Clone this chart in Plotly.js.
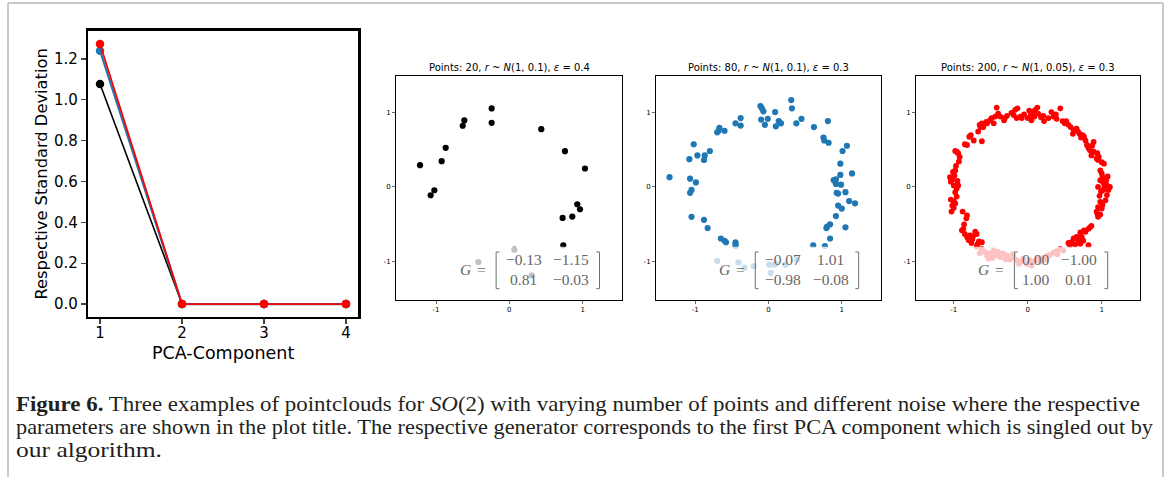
<!DOCTYPE html>
<html><head><meta charset="utf-8">
<script src="https://cdn.plot.ly/plotly-3.0.1.min.js"></script>
<style>html,body{margin:0;padding:0;background:#fff}#chart{width:1167px;height:477px}</style>
</head><body><div id="chart"></div>
<script>
// ---------- data ----------
const pcaComponents = [1, 2, 3, 4];
const stdBlack = [1.077, 0.0, 0.0, 0.0];
const stdBlue  = [1.240, 0.0, 0.0, 0.0];
const stdRed   = [1.273, 0.0, 0.0, 0.0];

const titles = [
  "Points: 20, <i>r</i> ~ <i>N</i>(1, 0.1), <i>ε</i> = 0.4",
  "Points: 80, <i>r</i> ~ <i>N</i>(1, 0.1), <i>ε</i> = 0.3",
  "Points: 200, <i>r</i> ~ <i>N</i>(1, 0.05), <i>ε</i> = 0.3"
];
const matrices = [
  [["−0.13", "−1.15"], ["0.81", "−0.03"]],
  [["−0.07", "1.01"], ["−0.98", "−0.08"]],
  [["0.00", "−1.00"], ["1.00", "0.01"]]
];

const cloud20x = [-1.218,-1.073,-1.023,-0.923,-0.868,-0.636,-0.614,-0.241,-0.241,0.436,0.759,1.032,0.927,0.964,0.859,0.727,0.736,-0.423,0.068,0.305];
const cloud20y = [0.29,-0.112,-0.045,0.344,0.522,0.817,0.888,1.049,0.857,0.772,0.478,0.246,-0.232,-0.299,-0.397,-0.415,-0.781,-1.004,-0.839,-1.183];

const cloud80x = [0.31,0.32,-0.11,-0.09,-0.07,0.09,-0.10,-0.01,-0.05,0.10,0.14,0.17,0.38,0.45,0.62,0.81,-0.38,-0.45,-0.38,-0.67,
  -0.70,-0.68,-0.60,-0.80,-0.87,-0.88,-0.97,-1.02,-1.08,-1.35,-1.07,-0.99,-1.05,-1.07,-1.05,-0.88,-0.83,-0.65,-0.60,-0.58,
  -0.45,-0.45,-0.45,0.61,0.77,0.84,0.84,0.80,0.79,0.92,1.05,0.95,1.00,1.10,1.18,0.93,1.05,0.92,0.89,0.92,
  0.99,0.98,1.14,0.98,1.01,1.07,0.75,0.76,0.82,-0.70,-0.41,-0.33,-0.20,0.01,0.03,0.07,0.10,0.23,0.39,0.95];
const cloud80y = [1.16,1.05,1.08,1.05,1.01,1.00,0.90,0.91,0.83,0.81,0.88,0.85,0.85,0.91,0.80,0.88,0.92,0.85,0.82,0.79,
  0.73,0.75,0.75,0.48,0.42,0.36,0.42,0.57,0.37,0.13,0.11,0.06,-0.04,-0.08,-0.40,-0.44,-0.55,-0.69,-0.72,-0.74,
  -0.74,-0.77,-0.79,-0.78,-0.79,-0.69,-0.50,-0.53,-0.55,-0.39,-0.54,-0.25,-0.29,-0.19,-0.22,-0.08,-0.07,0.04,0.09,0.10,
  0.03,0.16,0.18,0.31,0.48,0.55,0.66,0.62,0.59,-0.99,-1.01,-1.08,-1.06,-1.04,-1.15,-1.04,-1.03,-1.04,-0.97,-0.09];

const cloud200x = [-0.42,-0.44,-0.49,-0.51,-0.55,-0.46,-0.37,-0.32,-0.31,-0.17,-0.14,-0.19,-0.15,-0.10,0.00,0.04,0.07,0.10,0.13,0.09,
  0.14,0.21,0.22,0.35,0.38,0.44,0.39,0.47,-0.08,0.05,
  0.50,0.55,0.58,0.62,0.66,0.70,0.74,0.76,0.61,0.80,0.82,0.84,0.89,0.89,0.94,0.95,1.00,1.03,0.98,1.00,0.93,0.86,
  0.98,1.00,1.03,1.07,1.11,0.95,1.02,1.09,1.07,1.05,0.98,0.95,1.00,0.93,0.98,0.95,1.06,1.01,
  0.84,0.82,0.76,0.71,0.73,0.66,0.62,0.59,0.55,0.64,0.71,0.82,0.75,0.68,
  -0.69,-0.62,-0.58,-0.55,-0.51,-0.46,-0.44,-0.40,-0.37,-0.33,-0.28,-0.24,-0.19,-0.15,-0.10,-0.06,-0.01,0.03,0.08,0.12,
  0.17,0.21,0.26,0.30,0.35,0.39,0.44,0.48,-0.53,-0.65,
  -0.89,-0.87,-0.85,-0.82,-0.78,-0.75,-0.71,-0.69,-0.80,-0.76,-0.66,-0.62,-0.88,-0.82,-0.83,
  -1.03,-1.00,-0.98,-1.04,-1.00,-0.96,-0.98,-0.96,-0.94,-1.04,-1.02,-0.99,-1.01,-0.98,-1.05,-0.95,-0.93,-0.96,-0.94,-0.98,
  -0.85,-0.82,-0.79,-0.77,-0.73,-0.67,-0.64,-0.62,-0.65,-0.60,-0.62,-0.56,
  -0.40,-0.28,-0.05,0.02,0.18,0.28,-0.22,0.32,
  0.52,0.68,0.78,0.87,0.96,0.72,
  1.04,0.97,1.01,0.94,1.08,0.99,
  0.78,0.69,0.57,0.86,
  -0.48,-0.30,-0.12,0.05,0.14,0.25,0.40,-0.20,
  -0.86,-0.74,-0.68,
  -1.00,-0.97,-1.02,-0.92];
const cloud200y = [1.06,0.94,0.92,0.89,0.85,0.85,0.94,0.89,0.92,1.03,1.05,0.96,0.92,0.94,0.92,0.96,1.00,1.03,1.06,0.94,
  0.98,0.95,0.88,0.94,0.97,1.05,0.91,0.88,0.92,0.89,
  0.85,0.83,0.80,0.76,0.78,0.71,0.69,0.67,0.71,0.56,0.52,0.49,0.60,0.47,0.45,0.36,0.33,0.31,0.22,0.18,0.38,0.42,
  0.09,0.08,0.04,0.02,0.00,0.00,-0.04,-0.04,-0.11,-0.18,-0.20,-0.27,-0.29,-0.33,-0.37,-0.40,0.09,0.13,
  -0.54,-0.56,-0.58,-0.61,-0.67,-0.67,-0.69,-0.74,-0.75,-0.77,-0.76,-0.78,-0.72,-0.71,
  -0.80,-0.83,-0.87,-0.92,-0.89,-0.85,-0.92,-0.87,-0.94,-0.89,-0.92,-0.97,-0.94,-0.98,-1.00,-0.96,-1.03,-0.98,-1.00,-0.97,
  -1.00,-0.95,-0.92,-0.91,-0.88,-0.86,-0.83,-0.85,-0.96,-0.89,
  -0.58,-0.56,-0.63,-0.67,-0.65,-0.70,-0.60,-0.63,-0.71,-0.75,-0.73,-0.74,-0.33,-0.38,-0.42,
  -0.33,-0.28,-0.22,-0.17,-0.19,-0.13,-0.07,-0.02,0.02,0.07,0.10,0.15,0.20,0.22,0.13,0.08,0.34,0.47,0.45,0.48,
  0.57,0.56,0.67,0.69,0.62,0.74,0.80,0.85,0.83,0.80,0.61,0.87,
  0.98,0.95,0.97,1.02,0.93,0.92,0.99,1.00,
  0.88,0.74,0.62,0.55,0.40,0.66,
  0.00,-0.12,-0.24,-0.36,0.14,-0.06,
  -0.60,-0.68,-0.78,-0.52,
  -0.95,-0.97,-1.03,-1.05,-0.95,-0.97,-0.90,-0.90,
  -0.50,-0.66,-0.77,
  0.02,0.28,-0.25,0.40];

// ---------- layout helpers ----------
const W = 1167, H = 477;
const px = v => v / W;
const py = v => 1 - v / H;

const panels = [
  {xs: cloud20x, ys: cloud20y, color: "#000000", size: 6.2, dom: [396, 622], xr: [-1.546, 1.537], rb: 1.23, c1: 0.20, c2: 0.84},
  {xs: cloud80x, ys: cloud80y, color: "#1f77b4", size: 6.2, dom: [656, 881], xr: [-1.535, 1.535], rb: 1.23, c1: 0.20, c2: 0.85},
  {xs: cloud200x, ys: cloud200y, color: "#ff0000", size: 5.8, dom: [916, 1139.5], xr: [-1.51, 1.51], rb: 1.08, c1: 0.11, c2: 0.69}
];
const yDom = [py(300), py(75.5)];
const yRange = [-1.512, 1.489];

const traces = [
  {x: pcaComponents, y: stdBlack, mode: "lines+markers", line: {color: "#000000", width: 1.6}, marker: {color: "#000000", size: 8.5}, xaxis: "x", yaxis: "y"},
  {x: pcaComponents, y: stdBlue, mode: "lines+markers", line: {color: "#1f77b4", width: 2.2}, marker: {color: "#1f77b4", size: 8.5}, xaxis: "x", yaxis: "y"},
  {x: pcaComponents, y: stdRed, mode: "lines+markers", line: {color: "#ff0000", width: 1.8}, marker: {color: "#ff0000", size: 8.5}, xaxis: "x", yaxis: "y"}
];

const layout = {
  width: W, height: H, margin: {l: 0, r: 0, t: 0, b: 0},
  paper_bgcolor: "#ffffff", plot_bgcolor: "#ffffff", showlegend: false,
  font: {family: "DejaVu Sans", color: "#000"},
  xaxis: {domain: [px(88.3), px(358.3)], range: [0.857, 4.15], tickvals: pcaComponents, ticktext: pcaComponents.map(String),
    ticks: "outside", ticklen: 5, tickwidth: 1.3, showline: true, mirror: true, linewidth: 2.5, linecolor: "#000",
    showgrid: false, zeroline: false, tickfont: {size: 15, family: "DejaVu Sans"}, ticklabelstandoff: -4},
  yaxis: {domain: [py(316.7), py(30.7)], range: [-0.062, 1.338], tickvals: [0, 0.2, 0.4, 0.6, 0.8, 1.0, 1.2],
    ticktext: ["0.0", "0.2", "0.4", "0.6", "0.8", "1.0", "1.2"],
    ticks: "outside", ticklen: 5, tickwidth: 1.3, showline: true, mirror: true, linewidth: 2.5, linecolor: "#000",
    showgrid: false, zeroline: false, tickfont: {size: 15, family: "DejaVu Sans"}},
  shapes: [], annotations: []
};

layout.annotations.push({xref: "paper", yref: "paper", x: px(223.3), y: py(353), text: "PCA-Component", showarrow: false,
  xanchor: "center", yanchor: "middle", font: {size: 17.5, family: "DejaVu Sans", color: "#000"}});
layout.annotations.push({xref: "paper", yref: "paper", x: px(41.5), y: py(174), text: "Respective Standard Deviation", showarrow: false,
  textangle: -90, xanchor: "center", yanchor: "middle", font: {size: 16.3, family: "DejaVu Sans", color: "#000"}});

panels.forEach((p, i) => {
  const n = i + 2;
  const xa = "x" + n, ya = "y" + n;
  traces.push({x: p.xs, y: p.ys, mode: "markers", marker: {color: p.color, size: p.size, line: {width: 0}}, xaxis: xa, yaxis: ya});
  const common = {ticks: "outside", ticklen: 3, tickwidth: 0.8, showline: true, mirror: true, linewidth: 1, linecolor: "#000",
    showgrid: false, zeroline: false, tickfont: {size: 7, family: "DejaVu Sans"}, tickvals: [-1, 0, 1], ticktext: ["-1", "0", "1"]};
  layout["xaxis" + n] = Object.assign({domain: [px(p.dom[0]), px(p.dom[1])], range: p.xr, anchor: ya}, common);
  layout["yaxis" + n] = Object.assign({domain: yDom, range: yRange, anchor: xa}, common);
  layout.annotations.push({xref: "paper", yref: "paper", x: px((p.dom[0] + p.dom[1]) / 2), y: py(67), text: titles[i], showarrow: false,
    xanchor: "center", yanchor: "middle", font: {size: 10, family: "DejaVu Sans", color: "#000"}});
  layout.shapes.push({type: "rect", xref: xa, yref: ya, x0: -0.76, x1: p.rb + 0.09, y0: -1.44, y1: -0.80,
    fillcolor: "rgba(255,255,255,0.76)", line: {width: 0}, layer: "above"});
  const gcol = "#707070";
  const lb = -0.18, rb = p.rb, yt = -0.87, ybm = -1.36, s = 0.045;
  layout.shapes.push({type: "path", xref: xa, yref: ya, path: `M ${lb + s} ${yt} L ${lb} ${yt} L ${lb} ${ybm} L ${lb + s} ${ybm}`,
    line: {color: gcol, width: 1}, layer: "above"});
  layout.shapes.push({type: "path", xref: xa, yref: ya, path: `M ${rb - s} ${yt} L ${rb} ${yt} L ${rb} ${ybm} L ${rb - s} ${ybm}`,
    line: {color: gcol, width: 1}, layer: "above"});
  const tf = {size: 15.5, family: "Liberation Serif", color: "#666666"};
  layout.annotations.push({xref: xa, yref: ya, x: -0.60, y: -1.10, text: "<i>G</i>", showarrow: false, xanchor: "center", yanchor: "middle", font: tf});
  layout.annotations.push({xref: xa, yref: ya, x: -0.38, y: -1.10, text: "=", showarrow: false, xanchor: "center", yanchor: "middle", font: tf});
  const m = matrices[i];
  [[-0.975, 0], [-1.235, 1]].forEach(([yy, r]) => {
    layout.annotations.push({xref: xa, yref: ya, x: p.c1, y: yy, text: m[r][0], showarrow: false, xanchor: "center", yanchor: "middle", font: tf});
    layout.annotations.push({xref: xa, yref: ya, x: p.c2, y: yy, text: m[r][1], showarrow: false, xanchor: "center", yanchor: "middle", font: tf});
  });
});

// caption
const capFont = {size: 21, family: "Liberation Serif", color: "#231f20"};
const capLines = [
  "<b>Figure 6.</b> Three examples of pointclouds for <i>SO</i>(2) with varying number of points and different noise where the respective",
  "parameters are shown in the plot title. The respective generator corresponds to the first PCA component which is singled out by",
  "our algorithm."
];
const capWidths = [1124, 1137, 146];
[404, 427, 450].forEach((yy, i) => {
  layout.annotations.push({xref: "paper", yref: "paper", x: px(14), y: py(yy), text: capLines[i], showarrow: false,
    xanchor: "left", yanchor: "middle", font: capFont});
});

// page border
const bc = "#c8c8c8";
layout.shapes.push({type: "line", xref: "paper", yref: "paper", x0: px(8), x1: px(1163), y0: py(3), y1: py(3), line: {color: bc, width: 2}});
layout.shapes.push({type: "line", xref: "paper", yref: "paper", x0: px(8), x1: px(8), y0: py(3), y1: 0, line: {color: bc, width: 2}});
layout.shapes.push({type: "line", xref: "paper", yref: "paper", x0: px(1163), x1: px(1163), y0: py(3), y1: 0, line: {color: bc, width: 2}});

Plotly.newPlot("chart", traces, layout, {staticPlot: true, displayModeBar: false}).then(gd => {
  // widen caption lines to match the reference typeface's set width
  const texts = gd.querySelectorAll(".annotation-text");
  texts.forEach(t => {
    const idx = capLines.findIndex(l => t.textContent === l.replace(/<[^>]+>/g, ""));
    if (idx < 0) return;
    const b0 = t.getBBox();
    t.setAttribute("textLength", capWidths[idx]);
    t.setAttribute("lengthAdjust", "spacingAndGlyphs");
    const b1 = t.getBBox();
    const x = parseFloat(t.getAttribute("x") || "0");
    t.setAttribute("x", x + (b0.x - b1.x));
  });
});
</script>
</body></html>
